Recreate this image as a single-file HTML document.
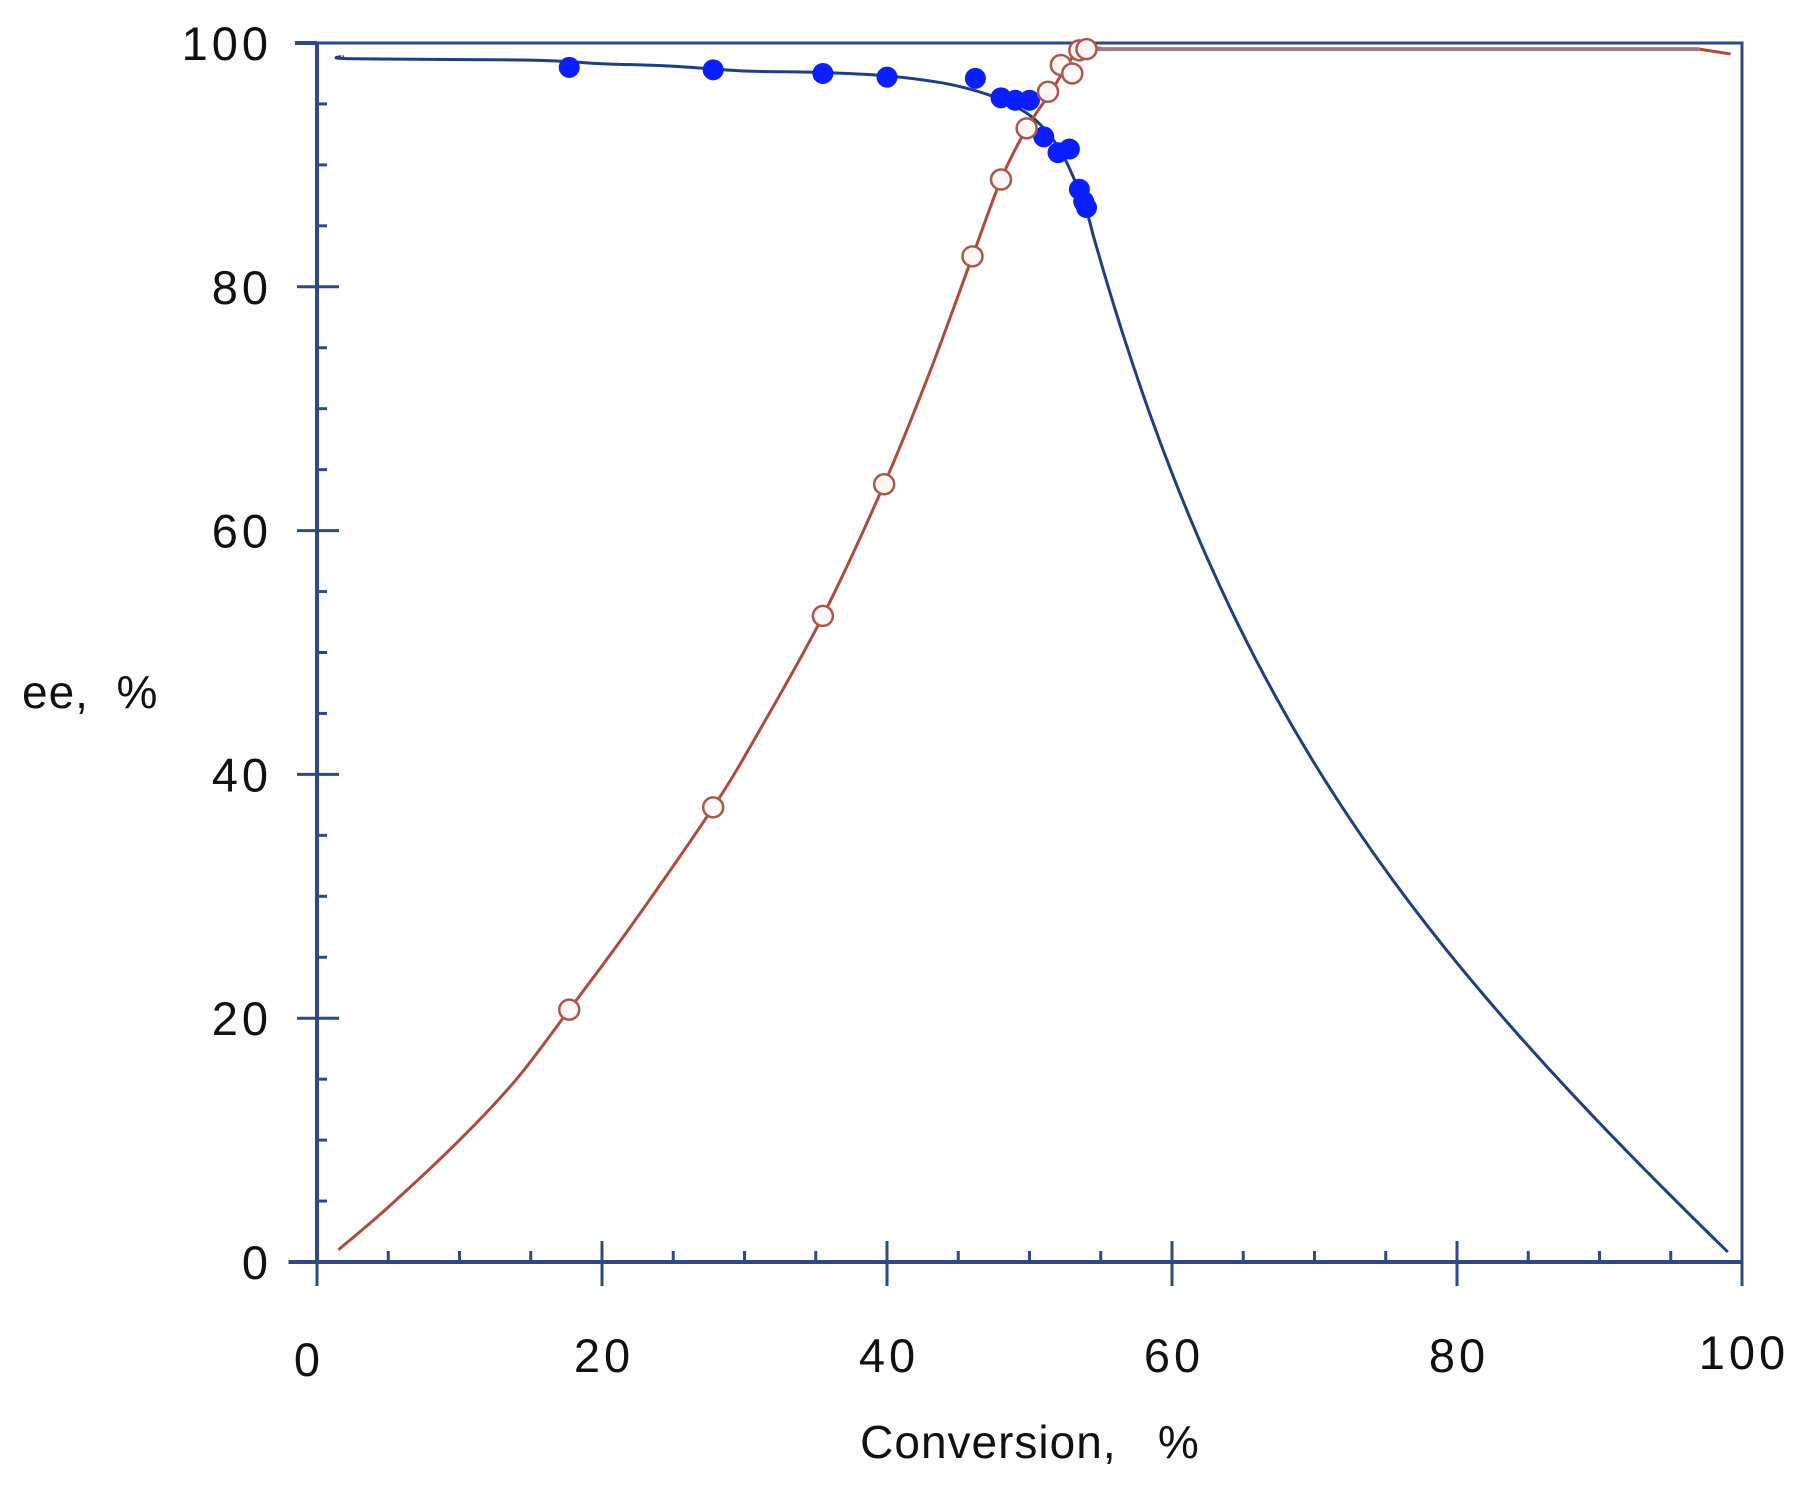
<!DOCTYPE html>
<html><head><meta charset="utf-8"><style>
html,body{margin:0;padding:0;background:#fff;}
svg{display:block;}
text{font-family:"Liberation Sans",sans-serif;fill:#111;}
</style></head><body>
<svg id="s" width="1801" height="1494" xmlns="http://www.w3.org/2000/svg">
<g id="g"></g>
<text x="22" y="708" font-size="46" letter-spacing="1">ee,&#160;&#160;%</text>
<text x="1030" y="1458" font-size="46" letter-spacing="1" text-anchor="middle">Conversion,&#160;&#160;&#160;%</text>
</svg>
<script>
const X=x=>317+x*14.25, Y=y=>1262-y*12.19;
const g=document.getElementById('g');let h='';
const ax='#2d4a86';
h+=`<path d="M${X(0)} ${Y(100)}H${X(100)}V${Y(0)}" stroke="${ax}" stroke-width="3" fill="none"/>`;
h+=`<path d="M${X(0)} ${Y(100)}V${Y(0)}M${X(-2)} ${Y(0)}H${X(100)}" stroke="${ax}" stroke-width="4" fill="none"/>`;
h+=`<line x1="295" y1="${Y(100)}" x2="${X(0)}" y2="${Y(100)}" stroke="${ax}" stroke-width="4"/>`;
for(let v=0;v<=100;v+=5){
  const maj=v%20==0;
  if(v<100){h+= maj?`<line x1="${X(0)-20}" y1="${Y(v)}" x2="${X(0)+22}" y2="${Y(v)}" stroke="${ax}" stroke-width="3"/>`:`<line x1="${X(0)}" y1="${Y(v)}" x2="${X(0)+10}" y2="${Y(v)}" stroke="${ax}" stroke-width="3"/>`;}
  h+= maj?`<line x1="${X(v)}" y1="${Y(0)-21}" x2="${X(v)}" y2="${Y(0)+24}" stroke="${ax}" stroke-width="3"/>`:`<line x1="${X(v)}" y1="${Y(0)-11}" x2="${X(v)}" y2="${Y(0)}" stroke="${ax}" stroke-width="3"/>`;
  if(maj){
    h+=`<text x="272" y="${Y(v)+17}" font-size="47" text-anchor="end" letter-spacing="4">${v}</text>`;
    h+=`<text x="${X(v)+(v==0?-8:2)}" y="${v==100?1369:(v==0?1376:1372)}" font-size="47" text-anchor="middle" letter-spacing="4">${v}</text>`;
  }
}
function smooth(pts){
  const P=pts.map(p=>[X(p[0]),Y(p[1])]);
  let d=`M${P[0][0].toFixed(1)} ${P[0][1].toFixed(1)}`;
  for(let i=0;i<P.length-1;i++){
    const p0=P[i-1]||P[i],p1=P[i],p2=P[i+1],p3=P[i+2]||P[i+1];
    const c1=[p1[0]+(p2[0]-p0[0])/6,p1[1]+(p2[1]-p0[1])/6];
    const c2=[p2[0]-(p3[0]-p1[0])/6,p2[1]-(p3[1]-p1[1])/6];
    d+=`C${c1[0].toFixed(1)} ${c1[1].toFixed(1)} ${c2[0].toFixed(1)} ${c2[1].toFixed(1)} ${p2[0].toFixed(1)} ${p2[1].toFixed(1)}`;
  }
  return d;
}
const path=(pts,c,w)=>`<path d="${smooth(pts)}" stroke="${c}" stroke-width="${w}" fill="none" stroke-linejoin="round"/>`;
const blue=[[1.8,98.9],[2.5,98.7],[15,98.6],[20,98.3],[25,98.1],[30,97.7],[35,97.6],[40,97.3],[44,96.7],[47,95.8],[49,94.8],[50.5,93.6],[52,91.5],[53,89.2]];
for(let i=0;i<=90;i++){
  const x=54+i*0.5, t=x-54;
  blue.push([x,86.2-(1.064*t+38.4*(1-Math.exp(-t/12)))]);
}
const red=[[1.5,1],[5,4.5],[10,10],[14,15],[17.7,20.7],[22,27.5],[27.8,37.3],[31,43.5],[35.5,53],[39.8,63.8],[43,73],[46,82.5],[48,88.8],[49.8,93],[51.5,96],[53,98.8],[54,99.4],[55,99.6]];
h+=path(blue,'#1f3f80',3);
h+=path(red,'#b04a3c',3);
h+=`<line x1="${X(54)}" y1="${Y(99.5)}" x2="${X(97)}" y2="${Y(99.5)}" stroke="#a07a8a" stroke-width="4"/>`;
h+=`<path d="M${X(97)} ${Y(99.5)}L${X(99.2)} ${Y(99.1)}" stroke="#b04a3c" stroke-width="3" fill="none"/>`;
const bp=[[17.7,98],[27.8,97.8],[35.5,97.5],[40,97.2],[46.2,97.1],[48,95.5],[49,95.3],[50,95.3],[51,92.3],[52,91],[52.8,91.3],[53.5,88],[53.8,87],[54,86.5]];
bp.forEach(p=>h+=`<circle cx="${X(p[0])}" cy="${Y(p[1])}" r="10.5" fill="#0a1eff"/>`);
const rp=[[17.7,20.7],[27.8,37.3],[35.5,53],[39.8,63.8],[46,82.5],[48,88.8],[49.8,93],[51.3,96],[52.2,98.2],[53,97.5],[53.5,99.4],[54,99.5]];
rp.forEach(p=>h+=`<circle cx="${X(p[0])}" cy="${Y(p[1])}" r="10" fill="#fff6f6" stroke="#a8594c" stroke-width="2.5"/>`);
g.innerHTML=h;
</script>
</body></html>
